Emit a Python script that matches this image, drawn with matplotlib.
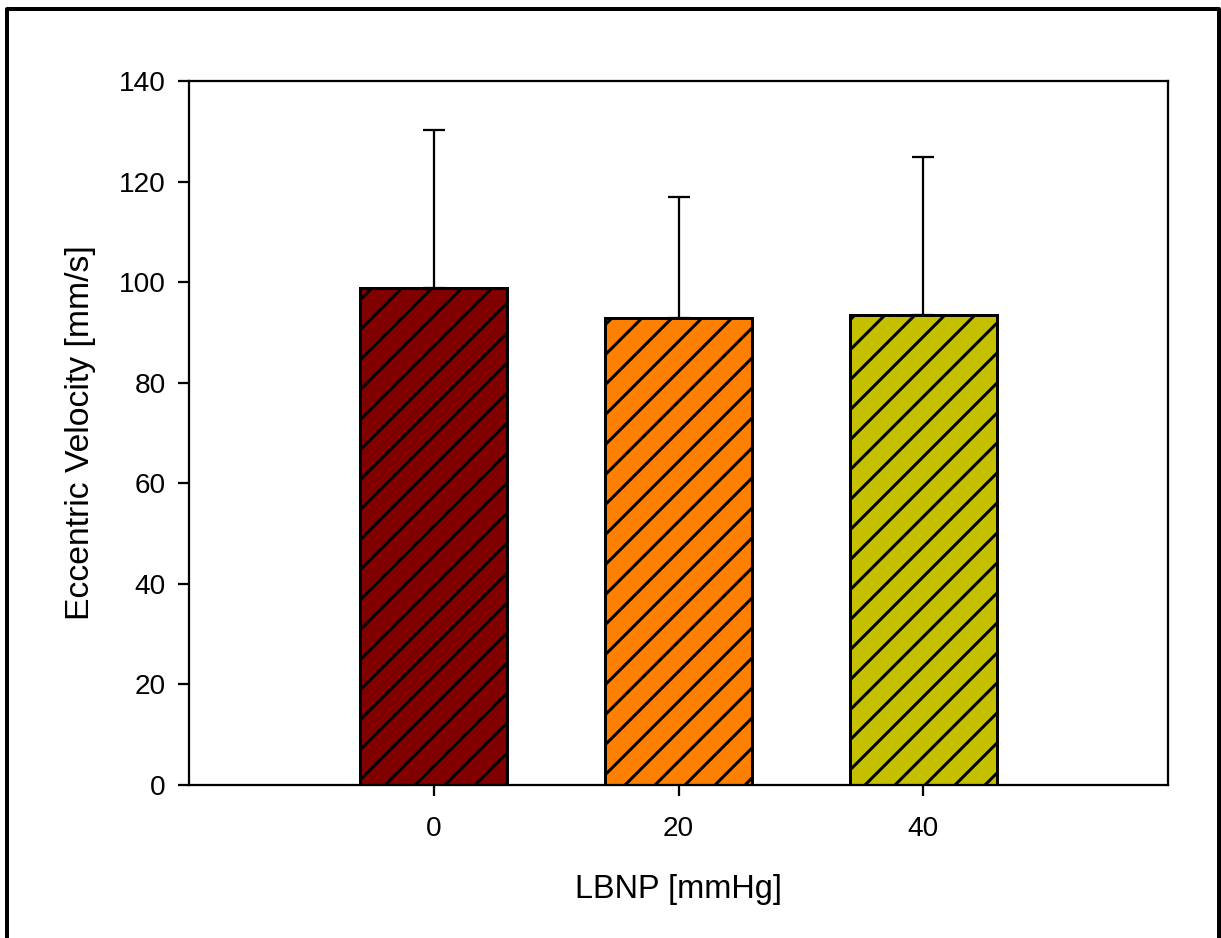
import matplotlib
matplotlib.use("Agg")
import matplotlib.pyplot as plt
from matplotlib.lines import Line2D

categories = ["0", "20", "40"]
means = [98.9, 92.8, 93.5]
upper_err = [31.4, 24.1, 31.3]
colors = ["#800000", "#FF8000", "#C4C000"]

DPI = 180
plt.rcParams['font.family'] = ['Liberation Sans', 'DejaVu Sans']
plt.rcParams['hatch.linewidth'] = 1.2

fig = plt.figure(figsize=(1221 / DPI, 938 / DPI), dpi=DPI)
ax = fig.add_axes([189 / 1221, 1 - 785 / 938, (1168 - 189) / 1221, (785 - 81) / 938])

pos = list(range(len(categories)))
ax.bar(pos, means, width=0.6, color=colors, edgecolor="black", linewidth=1.2,
       hatch="//", zorder=2)
ax.errorbar(pos, means, yerr=[[0] * len(means), upper_err], fmt="none",
            ecolor="black", elinewidth=0.9, capsize=4.4, capthick=0.9, zorder=1)

ax.set_xlim(-1.0, 3.0)
ax.set_ylim(0, 140)
ax.set_yticks(range(0, 141, 20))
ax.set_xticks(pos)
ax.set_xticklabels(categories)
for s in ax.spines.values():
    s.set_linewidth(0.9)
ax.tick_params(axis="both", direction="out", length=4.4, width=0.9,
               labelsize=11.2)
ax.tick_params(axis="y", pad=5.0)
ax.tick_params(axis="x", pad=8.2)
ax.set_ylabel("Eccentric Velocity [mm/s]", fontsize=13.5, labelpad=9)
ax.set_xlabel("LBNP [mmHg]", fontsize=13, labelpad=12.5)

# outer border (left, top, right)
border = Line2D([7 / 1221, 7 / 1221, 1219 / 1221, 1219 / 1221],
                [0, 1 - 9 / 938, 1 - 9 / 938, 0],
                transform=fig.transFigure, color="black", linewidth=1.6)
fig.add_artist(border)

fig.savefig("out.png", dpi=DPI)
